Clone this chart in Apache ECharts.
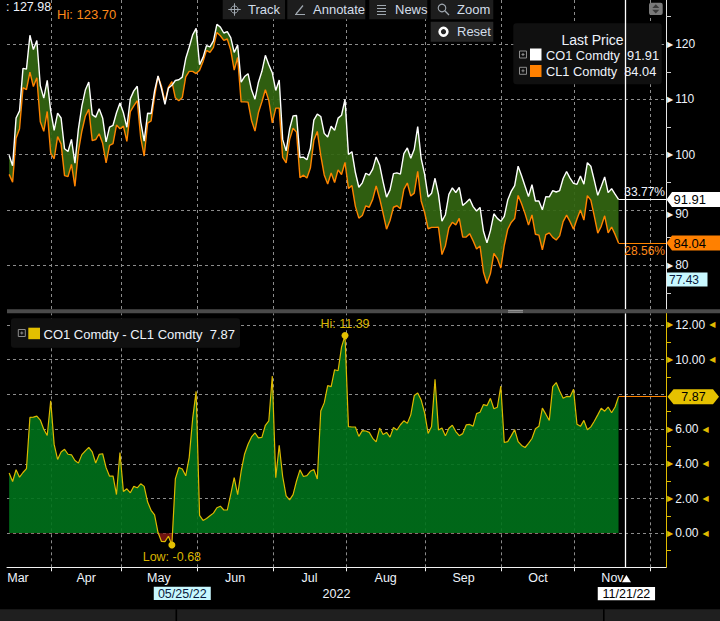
<!DOCTYPE html>
<html>
<head>
<meta charset="utf-8">
<title>CO1 Comdty vs CL1 Comdty</title>
<script src="https://cdn.jsdelivr.net/npm/echarts@6.0.0/dist/echarts.min.js"></script>
<style>
html,body{margin:0;padding:0;background:#000;overflow:hidden;}
#chart{width:720px;height:621px;}
</style>
</head>
<body>
<div id="chart"></div>
<script>
// ---------------- data ----------------
const firstDate = '2022-03-15';
const lastDate = '2022-12-06';
const closedDates = ['2022-04-15'];
const monthNames = ['Jan','Feb','Mar','Apr','May','Jun','Jul','Aug','Sep','Oct','Nov','Dec'];

// CO1 Comdty (Brent) last price
const brent = [
99.91,98.02,106.64,107.93,115.62,115.48,121.60,119.03,120.65,112.48,110.23,113.45,107.91,
104.39,107.53,106.64,101.07,100.58,102.78,98.48,104.64,108.78,111.70,113.16,107.25,106.80,108.33,106.65,102.32,104.99,105.32,107.59,109.34,
107.58,104.97,110.14,111.55,112.39,105.94,102.46,107.51,107.45,111.55,114.24,111.93,109.11,112.04,112.55,113.42,113.56,114.03,117.40,119.43,121.67,122.84,
116.29,117.61,119.72,119.51,120.57,123.58,123.07,122.01,122.27,121.17,118.51,119.81,113.12,114.13,114.65,111.74,110.05,113.12,115.09,117.98,116.26,114.81,
111.63,113.50,102.77,100.69,104.65,107.02,107.10,99.49,99.57,99.10,101.16,106.27,107.35,106.92,103.86,103.20,105.15,104.40,106.62,107.14,110.01,
100.03,100.54,96.78,94.12,94.92,96.65,96.31,97.40,99.60,98.15,95.10,92.34,93.65,96.59,96.72,96.48,100.22,101.22,99.34,100.99,105.09,99.31,96.49,
92.36,93.02,95.74,92.83,88.00,89.15,92.84,94.00,93.17,94.10,90.84,91.35,92.00,90.62,89.83,90.46,86.15,84.06,86.27,89.32,88.49,87.96,
88.86,91.80,93.37,94.42,97.92,96.19,94.29,92.45,94.57,91.63,91.62,90.03,92.41,92.38,93.50,93.26,93.52,95.69,96.96,95.77,94.83,
94.65,96.16,94.67,98.57,97.92,95.36,92.65,94.25,95.99,93.14,93.86,92.86,91.91
];
// CL1 Comdty (WTI) last price
const wti = [
96.44,95.04,102.98,104.70,112.12,111.76,114.93,112.34,113.90,105.96,104.24,107.82,100.28,
99.27,103.28,101.96,96.23,96.03,98.26,94.29,100.60,104.25,106.95,108.21,102.56,102.75,103.79,102.07,98.54,101.70,102.02,105.36,104.69,
105.17,102.41,107.81,108.85,109.77,103.09,99.76,105.71,106.13,110.49,114.20,112.40,109.59,112.21,113.23,110.29,109.77,110.33,114.09,115.07,115.07,114.67,
115.26,116.87,118.87,118.50,119.41,122.11,121.51,120.67,120.93,118.93,115.31,117.59,109.56,109.56,109.52,106.19,104.27,107.62,109.57,111.76,109.78,105.76,
108.43,108.43,99.50,98.53,102.73,104.79,104.09,95.84,96.30,95.78,97.59,102.60,104.22,99.88,96.35,94.70,96.70,94.98,97.26,96.42,98.62,
93.89,94.42,90.66,88.54,89.01,90.76,90.50,91.93,94.34,92.09,89.41,86.53,88.11,90.50,90.77,90.23,93.74,94.89,92.52,93.06,97.01,91.64,89.55,
86.61,86.87,86.87,86.88,81.94,83.54,86.79,87.78,87.31,88.48,85.10,85.11,85.73,84.45,82.94,83.49,78.74,76.71,78.50,82.15,81.23,79.49,
83.63,86.52,87.76,88.45,92.64,91.13,89.35,87.27,89.11,85.61,85.46,82.82,85.55,85.88,85.05,84.58,85.32,87.91,89.08,87.90,86.53,
88.37,90.00,88.17,92.61,91.79,88.91,85.83,87.05,88.96,85.87,86.92,85.59,84.04
];
// CO1 Comdty - CL1 Comdty
const spread = [
3.47,2.98,3.66,3.23,3.50,3.72,6.67,6.69,6.75,6.52,5.99,5.63,7.63,
5.12,4.25,4.68,4.84,4.55,4.52,4.19,4.04,4.53,4.75,4.95,4.69,4.05,4.54,4.58,3.78,3.29,3.30,2.23,4.65,
2.41,2.56,2.33,2.70,2.62,2.85,2.70,1.80,1.32,1.06,0.04,-0.47,-0.48,-0.17,-0.68,3.13,3.79,3.70,3.31,4.36,6.60,8.17,
1.03,0.74,0.85,1.01,1.16,1.47,1.56,1.34,1.34,2.24,3.20,2.22,3.56,4.57,5.13,5.55,5.78,5.50,5.52,6.22,6.48,9.05,
3.20,5.07,3.27,2.16,1.92,2.23,3.01,3.65,3.27,3.32,3.57,3.67,3.13,7.04,7.51,8.50,8.45,9.42,9.36,10.72,11.39,
6.14,6.12,6.12,5.58,5.91,5.89,5.81,5.47,5.26,6.06,5.69,5.81,5.54,6.09,5.95,6.25,6.48,6.33,6.82,7.93,8.08,7.67,6.94,
5.75,6.15,8.87,5.95,6.06,5.61,6.05,6.22,5.86,5.62,5.74,6.24,6.27,6.17,6.89,6.97,7.41,7.35,7.77,7.17,7.26,8.47,
5.23,5.28,5.61,5.97,5.28,5.06,4.94,5.18,5.46,6.02,6.16,7.21,6.86,6.50,8.45,8.68,8.20,7.78,7.88,7.87,8.30,
6.28,6.16,6.50,5.96,6.13,6.45,6.82,7.20,7.03,7.27,6.94,7.27,7.87
];
const changeBrent = '33.77%';
const changeWti = '28.56%';
const axisTopText = '127.98';
const wtiHiText = 'Hi: 123.70';
const cursorValue = 77.43;
const cursorDate = '2022-05-25';
const markerDate = '2022-11-21';
const yearText = '2022';

// ---------------- categories (trading days) ----------------
const dates = [];
for (let d = new Date(firstDate + 'T00:00:00Z'); d <= new Date(lastDate + 'T00:00:00Z'); d.setUTCDate(d.getUTCDate() + 1)) {
  const wd = d.getUTCDay();
  const s = d.toISOString().slice(0, 10);
  if (wd !== 0 && wd !== 6 && closedDates.indexOf(s) < 0) dates.push(s);
}
const xView = [-0.62, 189.71];
const monthOf = i => +dates[Math.max(0, Math.min(dates.length - 1, Math.round(i)))].slice(5, 7) - 1;
const bounds = [];
for (let i = 1; i < dates.length; i++) {
  if (dates[i].slice(5, 7) !== dates[i - 1].slice(5, 7)) bounds.push(i - 0.75);
}
const labelPos = [xView[0] + 0.001];
for (let k = 0; k + 1 < bounds.length; k++) labelPos.push((bounds[k] + bounds[k + 1]) / 2);

const lastI = brent.length - 1;
const markerIdx = dates.indexOf(markerDate);
const cursorIdx = dates.indexOf(cursorDate);
let hiIdx = 0, loIdx = 0;
spread.forEach((v, i) => { if (v > spread[hiIdx]) hiIdx = i; if (v < spread[loIdx]) loIdx = i; });
const pairs = arr => arr.map((v, i) => [i, v]);

// ---------------- styling ----------------
const FONT = '"Liberation Sans", Arial, Helvetica, sans-serif';
const TXT = '#eef3fb';
const GRID = '#8c8c8c';
const ORANGE = '#ff8400';
const YELLOW = '#dcb900';
const AXY = '#e0bc00';
const GREEN = '#00721b';
const RED = '#7e1612';
const OLIVE = '#336611';

const isMult = (v, m) => Math.abs(v / m - Math.round(v / m)) < 1e-6;

const richTop = {
  t: { fontFamily: 'DejaVu Sans', fontSize: 8, color: '#f2f2f2', padding: [0, 2, 0, 0] },
  v: { fontFamily: FONT, fontSize: 12, color: TXT },
  td: { fontFamily: 'DejaVu Sans', fontSize: 8, color: '#f2f2f2', padding: [8, 2, 0, 0] },
  vd: { fontFamily: FONT, fontSize: 12, color: TXT, padding: [8, 0, 0, 0] },
  tu: { fontFamily: 'DejaVu Sans', fontSize: 8, color: '#f2f2f2', padding: [0, 2, 8, 0] },
  vu: { fontFamily: FONT, fontSize: 12, color: TXT, padding: [0, 0, 8, 0] }
};
const richBottom = {
  t: { fontFamily: 'DejaVu Sans', fontSize: 8, color: AXY, padding: [0, 2, 0, 0] },
  v: { fontFamily: FONT, fontSize: 12, color: TXT },
  u: { fontFamily: 'DejaVu Sans', fontSize: 8, color: AXY, padding: [0, 0, 0, 4] }
};

const gridLinesMark = {
  silent: true, z: 1, symbol: ['none', 'none'], label: { show: false },
  lineStyle: { color: GRID, type: [3, 3], width: 1 },
  emphasis: { disabled: true },
  data: bounds.map(b => ({ xAxis: b }))
};

const option = {
  backgroundColor: '#000',
  animation: false,
  grid: [
    { left: 7, top: 0, width: 659, height: 309, containLabel: false, outerBoundsMode: 'none' },
    { left: 7, top: 313.3, width: 659, height: 254, containLabel: false, outerBoundsMode: 'none' }
  ],
  xAxis: [
    { type: 'value', gridIndex: 0, min: xView[0], max: xView[1], show: false, splitLine: { show: false } },
    {
      type: 'value', gridIndex: 1, min: xView[0], max: xView[1],
      axisLine: { show: true, onZero: false, lineStyle: { color: '#f2f2f2', width: 1 } },
      axisTick: { show: true, customValues: bounds, length: 4, lineStyle: { color: '#f2f2f2', width: 1 } },
      splitLine: { show: false },
      axisLabel: {
        customValues: labelPos, margin: 4, color: TXT, fontSize: 12.5, fontFamily: FONT,
        formatter: v => v < 0 ? '{m|' + monthNames[monthOf(v)] + '}' : monthNames[monthOf(v)],
        rich: { m: { padding: [0, 0, 0, 22], color: TXT, fontSize: 12.5, fontFamily: FONT } }
      }
    }
  ],
  yAxis: [
    {
      type: 'value', gridIndex: 0, position: 'right', min: 72.1, max: 127.98,
      splitNumber: 5, minInterval: 10, maxInterval: 10,
      axisLine: { show: true, onZero: false, lineStyle: { color: '#e6e6e6', width: 1 } },
      axisTick: { show: false },
      minorTick: { show: true, splitNumber: 2, length: 5, lineStyle: { color: '#d0d0d0', width: 1 } },
      splitLine: { show: true, showMinLine: false, showMaxLine: false, lineStyle: { color: GRID, type: [3, 3], width: 1 } },
      axisLabel: {
        margin: 1,
        formatter: v => isMult(v, 10) ? '{t|\u25B6}{v|' + Math.round(v) + '}' : '',
        rich: richTop
      }
    },
    {
      type: 'value', gridIndex: 1, position: 'right', min: -1.96, max: 12.67,
      splitNumber: 7, minInterval: 2, maxInterval: 2,
      axisLine: { show: true, onZero: false, lineStyle: { color: AXY, width: 1 } },
      axisTick: { show: false },
      minorTick: { show: true, splitNumber: 2, length: 5, lineStyle: { color: AXY, width: 1 } },
      splitLine: { show: true, showMinLine: false, showMaxLine: false, lineStyle: { color: GRID, type: [3, 3], width: 1 } },
      axisLabel: {
        margin: 1,
        formatter: v => isMult(v, 2) ? '{t|\u25B6}{v|' + v.toFixed(2) + '}{u|\u25C0}' : '',
        rich: richBottom
      }
    }
  ],
  series: [
    { type: 'line', name: 'gridTop', xAxisIndex: 0, yAxisIndex: 0, data: [], silent: true, markLine: gridLinesMark },
    {
      type: 'custom', name: 'band', xAxisIndex: 0, yAxisIndex: 0, data: [[0, 100]], silent: true, z: 2, clip: true,
      renderItem: (params, api) => {
        const upper = brent.map((v, i) => api.coord([i, v]));
        const lower = wti.map((v, i) => api.coord([i, v])).reverse();
        return { type: 'polygon', shape: { points: upper.concat(lower) }, style: { fill: OLIVE, opacity: 0.92 } };
      }
    },
    {
      type: 'line', name: 'CL1 Comdty', xAxisIndex: 0, yAxisIndex: 0, data: pairs(wti),
      symbol: 'none', showSymbol: false, silent: true, z: 3,
      lineStyle: { color: ORANGE, width: 1.4 },
      markLine: {
        silent: true, symbol: ['none', 'none'], label: { show: false },
        lineStyle: { color: ORANGE, width: 1.2, type: 'solid' },
        data: [[{ coord: [lastI, wti[lastI]] }, { coord: [xView[1], wti[lastI]] }]]
      }
    },
    {
      type: 'line', name: 'CO1 Comdty', xAxisIndex: 0, yAxisIndex: 0, data: pairs(brent),
      symbol: 'none', showSymbol: false, silent: true, z: 4,
      lineStyle: { color: '#ffffff', width: 1.4 },
      markLine: {
        silent: true, symbol: ['none', 'none'], label: { show: false },
        lineStyle: { color: '#ffffff', width: 1.2, type: 'solid' },
        data: [
          [{ coord: [lastI, brent[lastI]] }, { coord: [xView[1], brent[lastI]] }],
          { xAxis: markerIdx, lineStyle: { color: '#ffffff', width: 1.3, type: 'solid' } }
        ]
      }
    },
    { type: 'line', name: 'gridBottom', xAxisIndex: 1, yAxisIndex: 1, data: [], silent: true, markLine: gridLinesMark },
    {
      id: 'spreadArea', type: 'line', name: 'CO1 Comdty - CL1 Comdty', xAxisIndex: 1, yAxisIndex: 1, data: pairs(spread),
      symbol: 'none', showSymbol: false, silent: true, z: 2,
      lineStyle: { color: YELLOW, width: 1.2 },
      areaStyle: { color: GREEN, opacity: 0.9 },
      markPoint: {
        silent: true, symbol: 'circle', symbolSize: 7,
        itemStyle: { color: '#e3c000' },
        label: { color: '#d8b400', fontSize: 12.5, fontFamily: FONT },
        data: [
          { coord: [hiIdx, spread[hiIdx]], label: { position: 'top', distance: 2, formatter: 'Hi: ' + spread[hiIdx].toFixed(2) } },
          { coord: [loIdx, spread[loIdx]], label: { position: 'bottom', distance: 2, formatter: 'Low: ' + spread[loIdx].toFixed(2) } }
        ]
      },
      markLine: {
        silent: true, symbol: ['none', 'none'], label: { show: false },
        lineStyle: { color: ORANGE, width: 1.2, type: 'solid' },
        data: [
          [{ coord: [lastI, spread[lastI]] }, { coord: [xView[1], spread[lastI]] }],
          { xAxis: markerIdx, lineStyle: { color: '#ffffff', width: 1.3, type: 'solid' } }
        ]
      }
    }
  ]
};

const chart = echarts.init(document.getElementById('chart'), null, { renderer: 'svg' });
chart.setOption(option);

// ---------------- overlay texts / chrome ----------------
function T(x, y, text, o) {
  o = o || {};
  return { type: 'text', silent: true, z: o.z || 20,
    style: { x, y, text, fill: o.fill || TXT, fontSize: o.size || 12.5, fontFamily: FONT, align: o.align || 'left', verticalAlign: 'middle' } };
}
function R(x, y, w, h, fill, o) {
  o = o || {};
  return { type: 'rect', silent: true, z: o.z || 10, shape: { x, y, width: w, height: h, r: o.r || 0 },
    style: { fill: fill, stroke: o.stroke || null, lineWidth: o.lw || 0 } };
}
function L(x1, y1, x2, y2, stroke, lw, o) {
  o = o || {};
  return { type: 'line', silent: true, z: o.z || 11, shape: { x1, y1, x2, y2 }, style: { stroke, lineWidth: lw || 1 } };
}
function P(points, fill, o) {
  o = o || {};
  return { type: 'polygon', silent: true, z: o.z || 12, shape: { points }, style: { fill } };
}
function C(cx, cy, r, stroke, lw, o) {
  o = o || {};
  return { type: 'circle', silent: true, z: o.z || 11, shape: { cx, cy, r }, style: { fill: null, stroke, lineWidth: lw } };
}
function plusBox(x, y, z) {
  return [
    R(x, y, 7, 7, null, { stroke: '#8c8c8c', lw: 1, z }),
    L(x + 2, y + 3.5, x + 5, y + 3.5, '#8c8c8c', 1, { z }),
    L(x + 3.5, y + 2, x + 3.5, y + 5, '#8c8c8c', 1, { z })
  ];
}

const px = i => chart.convertToPixel({ xAxisIndex: 1 }, i);
const py0 = v => chart.convertToPixel({ yAxisIndex: 0 }, v);
const py1 = v => chart.convertToPixel({ yAxisIndex: 1 }, v);
const axX = px(xView[1]);
const plotL = px(xView[0]);
const yB = py0(brent[lastI]);
const yW = py0(wti[lastI]);
const yS = py1(spread[lastI]);
const yC = py0(cursorValue);
const yZero = py1(0);
const xCur = px(cursorIdx);
const xMk = px(markerIdx) + 1;

// axis labels that sit under a price tag: hide when covered, nudge away when clipped
const topTags = [yB, yW, yC];
const fmtTop = v => {
  if (!isMult(v, 10)) return '';
  const y = py0(v);
  let near = null;
  topTags.forEach(t => { if (Math.abs(y - t) < 13.5) near = t; });
  if (near === null) return '{t|\u25B6}{v|' + Math.round(v) + '}';
  if (Math.abs(y - near) < 8) return '';
  return y > near ? '{td|\u25B6}{vd|' + Math.round(v) + '}' : '{tu|\u25B6}{vu|' + Math.round(v) + '}';
};
const fmtBottom = v => {
  if (!isMult(v, 2)) return '';
  if (Math.abs(py1(v) - yS) < 12) return '';
  return '{t|\u25B6}{v|' + v.toFixed(2) + '}{u|\u25C0}';
};

const BTN = '#1d1d1d';
const ICON = '#a0a8b0';
const BTXT = '#d3deea';
const els = [].concat(
  [
    R(222.7, 0, 62.3, 19.3, BTN),
    C(234.5, 9.5, 3.6, ICON, 1), L(228.3, 9.5, 240.7, 9.5, ICON, 1), L(234.5, 3.3, 234.5, 15.7, ICON, 1),
    T(248, 9.8, 'Track', { size: 13, fill: BTXT }),
    R(287.3, 0, 78, 19.3, BTN),
    L(296, 14, 303, 5.5, ICON, 1.2), L(295, 14.5, 305, 14.5, ICON, 1),
    T(313, 9.8, 'Annotate', { size: 13, fill: BTXT }),
    R(369.3, 0, 58, 19.3, BTN),
    L(377, 5.5, 386, 5.5, ICON, 1), L(377, 8.5, 386, 8.5, ICON, 1), L(377, 11.5, 386, 11.5, ICON, 1), L(377, 14.5, 386, 14.5, ICON, 1),
    T(395, 9.8, 'News', { size: 13, fill: BTXT }),
    R(430.7, 0, 62.6, 19.3, BTN),
    C(442, 8, 3.8, ICON, 1.1), L(444.8, 10.8, 449, 15, ICON, 1.3),
    T(457, 9.8, 'Zoom', { size: 13, fill: BTXT }),
    R(430.7, 21.7, 62.6, 20, '#262626'),
    C(443.5, 31.7, 3.9, '#ffffff', 2.6),
    T(457, 31.9, 'Reset', { size: 13, fill: BTXT }),
    R(649, 2.7, 13.7, 12.3, '#7a7a7a', { r: 2 }),
    P([[655.8, 4.3], [652.3, 8], [659.3, 8]], '#3a3a3a'),
    P([[652.3, 9.7], [659.3, 9.7], [655.8, 13.4]], '#3a3a3a')
  ],
  [
    T(6, 7.3, ': ' + axisTopText, { size: 12.5 }),
    T(57, 14.2, wtiHiText, { size: 13, fill: '#ff8a1a' })
  ],
  [
    R(513.3, 23.3, 148.4, 61, '#101010', { r: 3, z: 3 }),
    T(592.5, 40, 'Last Price', { align: 'center', size: 14, z: 6 })
  ],
  plusBox(519.5, 51, 6),
  [
    R(530, 48.5, 11.5, 12, '#ffffff', { z: 6 }),
    T(546, 55, 'CO1 Comdty  ' + brent[lastI].toFixed(2), { size: 12.8, z: 6 })
  ],
  plusBox(519.5, 67.3, 6),
  [
    R(530, 65, 11.5, 12, '#ff8000', { z: 6 }),
    T(546, 71.2, 'CL1 Comdty  ' + wti[lastI].toFixed(2), { size: 12.8, z: 6 })
  ],
  [ R(11, 318.3, 229, 29.5, '#101010', { r: 3, z: 3 }) ],
  plusBox(18.3, 329.5, 6),
  [
    R(28.3, 327.7, 11.7, 11.5, '#e3c000', { z: 6 }),
    T(43.5, 334, 'CO1 Comdty - CL1 Comdty  ' + spread[lastI].toFixed(2), { size: 13, z: 6 })
  ],
  [
    P([[axX + 0.5, yB], [axX + 6, yB - 7.5], [720, yB - 7.5], [720, yB + 7.5], [axX + 6, yB + 7.5]], '#ffffff', { z: 30 }),
    T(axX + 7.5, yB + 0.5, brent[lastI].toFixed(2), { fill: '#000000', size: 13, z: 31 }),
    P([[axX + 0.5, yW], [axX + 6, yW - 7.5], [720, yW - 7.5], [720, yW + 7.5], [axX + 6, yW + 7.5]], '#ff8000', { z: 30 }),
    T(axX + 7.5, yW + 0.5, wti[lastI].toFixed(2), { fill: '#000000', size: 13, z: 31 }),
    T(axX - 1, yB - 7.5, changeBrent, { align: 'right', size: 12, z: 31 }),
    T(axX - 1, yW + 8.5, changeWti, { align: 'right', size: 12, fill: '#ff8a1a', z: 31 }),
    R(axX + 1, yC - 7, 40.5, 14, '#c8f8ff', { z: 30 }),
    T(axX + 3, yC + 0.5, cursorValue.toFixed(2), { fill: '#0a1a40', size: 12, z: 31 }),
    P([[axX + 1.5, yS], [axX + 7.5, yS - 7.5], [713, yS - 7.5], [719, yS], [713, yS + 7.5], [axX + 7.5, yS + 7.5]], '#e5c100', { z: 30 }),
    T(693.5, yS + 0.5, spread[lastI].toFixed(2), { fill: '#000000', align: 'center', size: 12.5, z: 31 })
  ],
  [
    R(xCur - 28.5, 586.7, 57, 13.3, '#c8f8ff', { z: 30 }),
    T(xCur, 593.6, cursorDate.slice(5, 7) + '/' + cursorDate.slice(8, 10) + '/' + cursorDate.slice(2, 4), { fill: '#0a1a40', align: 'center', size: 12.5, z: 31 }),
    T((plotL + axX) / 2, 593.6, yearText, { align: 'center', size: 12.5 }),
    R(xMk - 28.7, 587, 57.3, 13.3, '#ffffff', { z: 30 }),
    T(xMk, 593.8, markerDate.slice(5, 7) + '/' + markerDate.slice(8, 10) + '/' + markerDate.slice(2, 4), { fill: '#000000', align: 'center', size: 12.5, z: 31 }),
    P([[xMk - 4.5, 582.3], [xMk + 4.5, 582.3], [xMk, 575]], '#ffffff', { z: 31 })
  ],
  [
    R(7, 309.3, 713, 4, '#4a4a4a', { z: 15 }),
    L(508, 310.6, 523, 310.6, '#b0b0b0', 0.8, { z: 16 }),
    L(508, 312.2, 523, 312.2, '#b0b0b0', 0.8, { z: 16 }),
    R(0, 609.3, 720, 11.7, '#1f1f1f', { z: 15 }),
    R(175.5, 609.3, 1.6, 11.7, '#000000', { z: 16 }),
    R(603, 609.3, 1.6, 11.7, '#000000', { z: 16 })
  ]
);
chart.setOption({
  yAxis: [
    { axisLabel: { formatter: fmtTop, rich: richTop } },
    { axisLabel: { formatter: fmtBottom, rich: richBottom } }
  ],
  series: [{
    id: 'spreadArea',
    areaStyle: {
      opacity: 0.9,
      color: {
        type: 'linear', x: 0, y: yZero - 1, x2: 0, y2: yZero + 1, global: true,
        colorStops: [
          { offset: 0, color: GREEN }, { offset: 0.5, color: GREEN },
          { offset: 0.5, color: RED }, { offset: 1, color: RED }
        ]
      }
    }
  }],
  graphic: { elements: els }
});
</script>
</body>
</html>
